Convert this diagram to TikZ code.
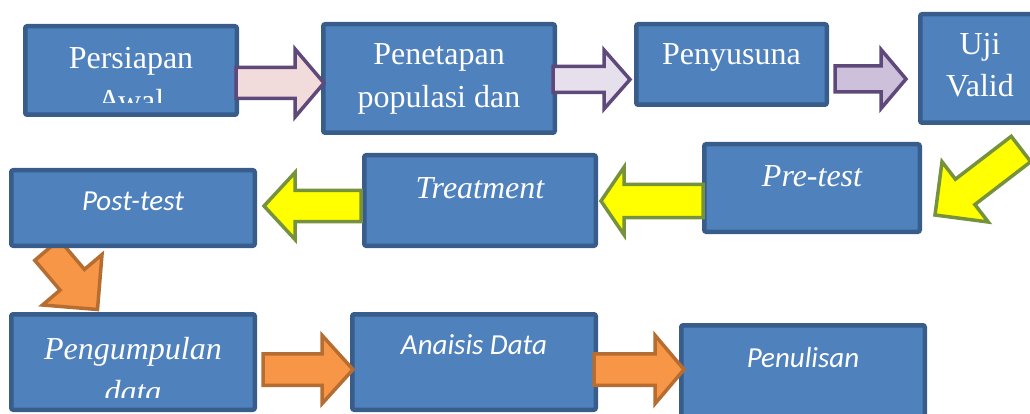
\documentclass[tikz,border=0pt]{standalone}
\usepackage{fontspec}
\setmainfont{Liberation Serif}
\newfontfamily\calibrifont{Carlito}
\usetikzlibrary{calc}
\definecolor{boxfill}{HTML}{4F81BD}
\definecolor{boxline}{HTML}{385D8A}
\definecolor{purp}{HTML}{5F497A}
\definecolor{pinkA}{HTML}{F2DCDB}
\definecolor{lavA}{HTML}{E5E0EC}
\definecolor{lavB}{HTML}{CCC0DA}
\definecolor{olive}{HTML}{76923C}
\definecolor{yel}{HTML}{FFFF00}
\definecolor{orng}{HTML}{F79646}
\definecolor{orngline}{HTML}{B66D31}
\tikzset{
  stepbox/.style={draw=boxline, fill=boxfill, line width=4.5pt, rounded corners=2pt, inner sep=0pt},
  serif/.style={text=white, inner sep=0pt, anchor=base, font=\fontsize{32}{38}\selectfont},
  serifit/.style={serif, font=\fontsize{32}{38}\selectfont\itshape},
  sansit/.style={text=white, inner sep=0pt, anchor=base, font=\calibrifont\fontsize{29}{35}\selectfont\itshape},
  purparrow/.style={draw=purp, line width=3.5pt, line join=miter},
  yelarrow/.style={draw=olive, fill=yel, line width=3.5pt, line join=miter},
  orarrow/.style={draw=orngline, fill=orng, line width=3.5pt, line join=miter},
}
% #1 style, #2 tail, #3 tip, #4 shaft half width, #5 head half width, #6 head length
\newcommand\blockarrow[6]{%
  \path ($(#3)!#6!(#2)$) coordinate (hb);
  \draw[#1] ($(#2)!#4!90:(#3)$) -- ($(hb)!#4!-90:(#2)$) -- ($(hb)!#5!-90:(#2)$) -- (#3)
    -- ($(hb)!#5!90:(#2)$) -- ($(hb)!#4!90:(#2)$) -- ($(#2)!#4!-90:(#3)$) -- cycle;}
\begin{document}
\begin{tikzpicture}[x=1pt,y=-1pt]
\clip (0,0) rectangle (1030,414);
\useasboundingbox (0,0) rectangle (1030,414);

% connector end points
\coordinate (a7s) at (47,250);   \coordinate (a7e) at (97.5,309.5);
\coordinate (a1s) at (236,83);   \coordinate (a1e) at (324,83);
\coordinate (a2s) at (553,79.5); \coordinate (a2e) at (630,79.5);
\coordinate (a3s) at (835,79);   \coordinate (a3e) at (906,79);
\coordinate (a4s) at (1021,149); \coordinate (a4e) at (935,215);
\coordinate (a5s) at (703,201);  \coordinate (a5e) at (601,201);
\coordinate (a6s) at (361,206);  \coordinate (a6e) at (264,206);
\coordinate (a8s) at (263,369.5);\coordinate (a8e) at (353,369.5);
\coordinate (a9s) at (594,369.5);\coordinate (a9e) at (684,369.5);

% arrow under the Post-test box
\blockarrow{orarrow}{a7s}{a7e}{16pt}{39pt}{39pt}

% boxes
\node[stepbox, minimum width=211.5pt, minimum height=88.5pt]  (b1)  at (131,70.5) {};
\node[stepbox, minimum width=231.5pt, minimum height=108.5pt] (b2)  at (439,78.5) {};
\node[stepbox, minimum width=190.5pt, minimum height=80.5pt]  (b3)  at (731.5,64.5) {};
\node[stepbox, minimum width=119.5pt, minimum height=108.5pt] (b4)  at (980,68.5) {};
\node[stepbox, minimum width=243.5pt, minimum height=75.5pt]  (b5)  at (133,208) {};
\node[stepbox, minimum width=231.5pt, minimum height=90.5pt]  (b6)  at (480,200.5) {};
\node[stepbox, minimum width=215.5pt, minimum height=87.5pt]  (b7)  at (812,188) {};
\node[stepbox, minimum width=243.5pt, minimum height=95.5pt]  (b8)  at (133,362) {};
\node[stepbox, minimum width=243.5pt, minimum height=95.5pt]  (b9)  at (474,362) {};
\node[stepbox, minimum width=243.5pt, minimum height=97.5pt]  (b10) at (803,374) {};

% texts
\begin{scope}
  \clip (23,24) rectangle (239,103);
  \node[serif] (t1a) at (131,69) {Persiapan};
  \node[serif] (t1b) at (131,112) {Awal};
\end{scope}
\node[serif] (t2a) at (439,65) {Penetapan};
\node[serif] (t2b) at (439,108) {populasi dan};
\node[serif] (t3) at (731.5,65) {Penyusuna};
\node[serif] (t4a) at (980,55) {Uji};
\node[serif] (t4b) at (980,97) {Valid};
\node[sansit] (t5) at (133,211) {Post-test};
\node[serifit] (t6) at (480,199) {Treatment};
\node[serifit] (t7) at (812,187) {Pre-test};
\begin{scope}
  \clip (9,312) rectangle (257,397.5);
  \node[serifit] (t8a) at (133,359) {Pengumpulan};
  \node[serifit] (t8b) at (133,402) {data};
\end{scope}
\node[sansit] (t9) at (474,354) {Anaisis Data};
\node[sansit] (t10) at (803,367) {Penulisan};

% arrows
\blockarrow{purparrow, fill=pinkA}{a1s}{a1e}{15.5pt}{34pt}{29pt}
\blockarrow{purparrow, fill=lavA}{a2s}{a2e}{13pt}{29.5pt}{26pt}
\blockarrow{purparrow, fill=lavB}{a3s}{a3e}{13pt}{29.5pt}{25pt}
\blockarrow{yelarrow}{a4s}{a4e}{16pt}{38pt}{38pt}
\blockarrow{yelarrow}{a5s}{a5e}{16.5pt}{33.75pt}{23pt}
\blockarrow{yelarrow}{a6s}{a6e}{15.5pt}{33.5pt}{31pt}
\blockarrow{orarrow}{a8s}{a8e}{15.75pt}{34.25pt}{31pt}
\blockarrow{orarrow}{a9s}{a9e}{15.75pt}{34.25pt}{29pt}
\end{tikzpicture}
\end{document}
